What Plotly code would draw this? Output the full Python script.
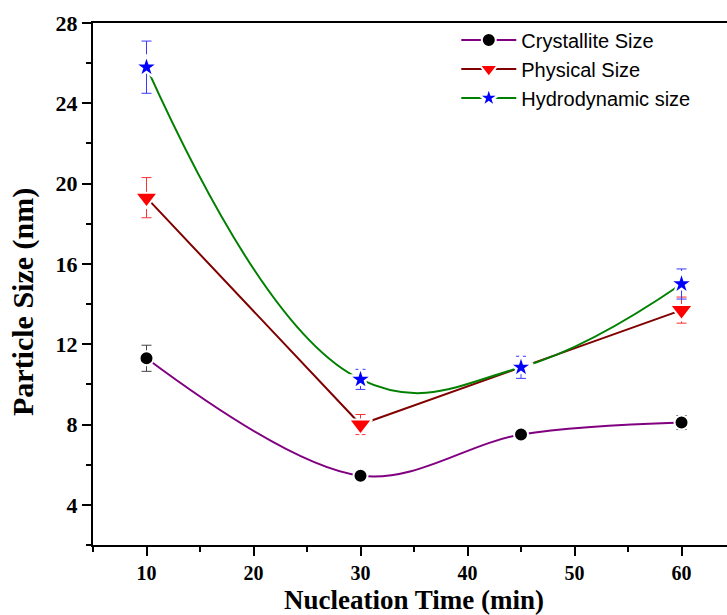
import plotly.graph_objects as go

# Nucleation time (min) and measured particle sizes (nm)
time_crystallite = [10, 30, 45, 60]
crystallite_size = [11.3, 5.45, 7.5, 8.1]
crystallite_err = [0.65, 0.2, 0.2, 0.35]

time_physical = [10, 30, 60]
physical_size = [19.3, 8.0, 13.7]
physical_err = [1.0, 0.5, 0.65]

time_hydro = [10, 30, 45, 60]
hydro_size = [25.8, 10.25, 10.85, 15.0]
hydro_err = [1.3, 0.5, 0.55, 0.75]

x_ticks = [10, 20, 30, 40, 50, 60]
y_ticks = [4, 8, 12, 16, 20, 24, 28]

serif = "Times New Roman, Liberation Serif, serif"
sans = "Arial, Liberation Sans, sans-serif"

fig = go.Figure()

fig.add_trace(go.Scatter(
    x=time_crystallite, y=crystallite_size, name="Crystallite Size",
    mode="lines+markers",
    line=dict(color="#800080", width=2, shape="spline", smoothing=1),
    marker=dict(symbol="circle", size=14, color="black",
                line=dict(color="white", width=2)),
    error_y=dict(type="data", array=crystallite_err, color="#444444",
                 thickness=1, width=5),
))

fig.add_trace(go.Scatter(
    x=time_physical, y=physical_size, name="Physical Size",
    mode="lines+markers",
    line=dict(color="#800000", width=2),
    marker=dict(symbol="triangle-down", size=20, color="red",
                line=dict(color="white", width=2)),
    error_y=dict(type="data", array=physical_err, color="#ff3030",
                 thickness=1, width=5),
))

fig.add_trace(go.Scatter(
    x=time_hydro, y=hydro_size, name="Hydrodynamic size",
    mode="lines+markers",
    line=dict(color="#008000", width=2, shape="spline", smoothing=1.2),
    marker=dict(symbol="star", size=18, color="blue",
                line=dict(color="white", width=2.5)),
    error_y=dict(type="data", array=hydro_err, color="#3a3aff",
                 thickness=1, width=5),
))

# Axis titles placed as paper-anchored annotations
fig.add_annotation(text="Nucleation Time (min)", xref="paper", yref="paper",
                   x=0.5063, y=-0.0747, xanchor="center", yanchor="top",
                   showarrow=False, borderpad=0,
                   font=dict(family=serif, size=27, color="black",
                             weight="bold"))
fig.add_annotation(text="Particle Size (nm)", xref="paper", yref="paper",
                   x=-0.1104, y=0.4655, xanchor="center", yanchor="middle",
                   textangle=-90, showarrow=False,
                   font=dict(family=serif, size=30, color="black",
                             weight="bold"))

fig.update_layout(
    width=727, height=615,
    margin=dict(l=93, r=0, t=23, b=70),
    paper_bgcolor="white", plot_bgcolor="white",
    showlegend=True,
    legend=dict(
        x=0.573, y=1.005, xanchor="left", yanchor="top",
        bgcolor="rgba(0,0,0,0)", borderwidth=0,
        font=dict(family=sans, size=20, color="black"),
        itemwidth=55, tracegroupgap=0,
    ),
    xaxis=dict(
        range=[5, 64.25], tickvals=x_ticks,
        showline=True, linecolor="black", linewidth=2, mirror=True,
        ticks="outside", ticklen=9, tickwidth=2, tickcolor="black",
        minor=dict(dtick=5, tick0=5, ticks="outside", ticklen=5,
                   tickwidth=2, tickcolor="black"),
        showgrid=False, zeroline=False,
        tickfont=dict(family=serif, size=20, color="black", weight="bold"),
    ),
    yaxis=dict(
        range=[2, 28], tickvals=y_ticks,
        showline=True, linecolor="black", linewidth=2, mirror=False,
        ticks="outside", ticklen=9, tickwidth=2, tickcolor="black",
        minor=dict(dtick=2, tick0=2, ticks="outside", ticklen=5,
                   tickwidth=2, tickcolor="black"),
        showgrid=False, zeroline=False,
        tickfont=dict(family=serif, size=22, color="black", weight="bold"),
    ),
)

fig.write_html("out.html")
